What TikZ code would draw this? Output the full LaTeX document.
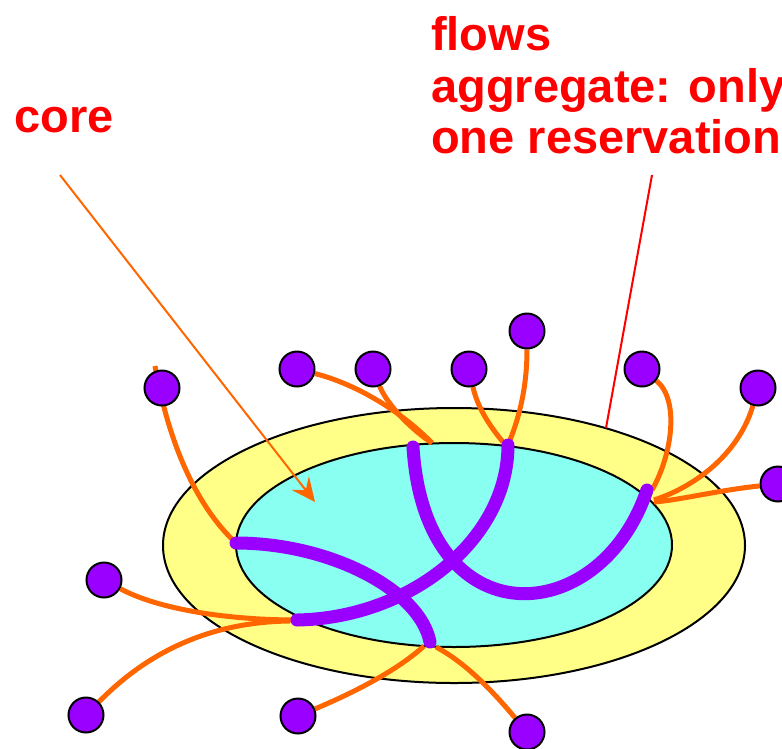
\documentclass[tikz,border=0pt]{standalone}
\usepackage{fontspec}
\setmainfont{Liberation Sans}
\usetikzlibrary{arrows.meta}
\definecolor{ringyellow}{RGB}{255,255,136}
\definecolor{corecyan}{RGB}{136,255,240}
\definecolor{hostpurple}{RGB}{153,0,255}
\definecolor{linkorange}{RGB}{255,102,0}
\definecolor{labelred}{RGB}{255,0,0}
\pgfdeclarelayer{regions}
\pgfdeclarelayer{links}
\pgfsetlayers{regions,links,main}
\begin{document}
\begin{tikzpicture}[x=1pt,y=-1pt,
  host/.style={circle,draw=black,line width=2pt,fill=hostpurple,minimum size=35pt,inner sep=0pt},
  access/.style={draw=linkorange,line width=5pt},
  aggflow/.style={draw=hostpurple,line width=13pt,line cap=round},
  label/.style={text=labelred,font=\fontsize{47}{52}\selectfont\bfseries,inner sep=0pt,anchor=base west}
]
\useasboundingbox (0,0) rectangle (782,748);

% edge region and core
\begin{pgfonlayer}{regions}
\draw[line width=2pt,fill=ringyellow] (454,545.5) ellipse [x radius=291pt, y radius=137.5pt];
\draw[line width=2pt,fill=corecyan] (454,545) ellipse [x radius=218pt, y radius=102pt];
\end{pgfonlayer}

% hosts
\path
  (162,388) node[host] (n1) {}
  (297,369) node[host] (n2) {}
  (373,369) node[host] (n3) {}
  (469,369) node[host] (n4) {}
  (527,331) node[host] (n5) {}
  (642,369) node[host] (n6) {}
  (758,388) node[host] (n7) {}
  (778,484) node[host] (n8) {}
  (104,580) node[host] (n9) {}
  (86,715)  node[host] (n10) {}
  (298,716) node[host] (n11) {}
  (527,732) node[host] (n12) {};

% aggregation points on the core border
\coordinate (a1) at (236,543);
\coordinate (a2) at (430,642);
\coordinate (b1) at (297,620);
\coordinate (b2) at (508,445);
\coordinate (c1) at (413,447);
\coordinate (c2) at (647,490);
\coordinate (t1) at (155,366);
\coordinate (m23) at (432,443);
\coordinate (m4) at (503,442);
\coordinate (m5) at (510,440);
\coordinate (m6) at (652,490);
\coordinate (m7) at (654,500);
\coordinate (m8) at (654,502);
\coordinate (m10) at (290,621);
\coordinate (m11) at (424,646);
\coordinate (m12) at (436,647);

% per-host access links and aggregated flows, beneath the hosts
\begin{pgfonlayer}{links}
\draw[access] (t1) .. controls (168,440) and (195,505) .. (a1);
\draw[access] (n2) .. controls (360,385) and (405,415) .. (m23);
\draw[access] (n3) .. controls (385,400) and (405,425) .. (m23);
\draw[access] (n4) .. controls (478,410) and (493,430) .. (m4);
\draw[access] (n5) .. controls (527,390) and (518,420) .. (m5);
\draw[access] (n6) .. controls (680,400) and (672,455) .. (m6);
\draw[access] (n7) .. controls (740,450) and (700,485) .. (m7);
\draw[access] (n8) .. controls (720,490) and (680,500) .. (m8);
\draw[access] (n9) .. controls (160,610) and (230,620) .. (b1);
\draw[access] (n10) .. controls (140,660) and (200,622) .. (m10);
\draw[access] (n11) .. controls (360,690) and (400,668) .. (m11);
\draw[access] (n12) .. controls (500,700) and (470,665) .. (m12);

\draw[aggflow] (a1) .. controls (330,543) and (420,590) .. (a2);
\draw[aggflow] (b1) .. controls (410,618) and (508,540) .. (b2);
\draw[aggflow] (c1) .. controls (425,640) and (600,630) .. (c2);
\end{pgfonlayer}

% labels
\node[label] (core) at (14,132) {core};
\node[label] (fl1) at (431,50) {flows};
\node[label] (fl2) at (431,102) {aggregate: only};
\node[label] (fl3) at (431,153) {one reservation};

\coordinate (ca) at (60,175);
\coordinate (cb) at (315,502);
\draw[linkorange,line width=2pt,-{Stealth[length=24pt,width=22pt,inset=9pt]}] (ca) -- (cb);

\coordinate (ra) at (652,175);
\coordinate (rb) at (606,428);
\draw[labelred,line width=2pt] (ra) -- (rb);
\end{tikzpicture}
\end{document}
